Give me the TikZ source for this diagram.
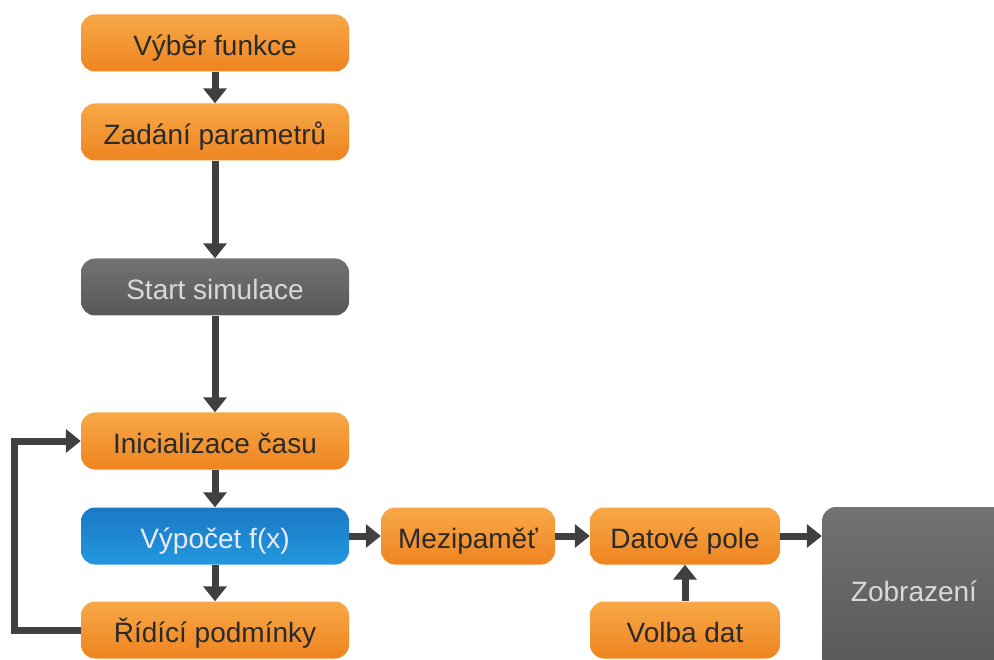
\documentclass[tikz,border=0pt]{standalone}
\usepackage{fontspec}
\setmainfont{Liberation Sans}
\usetikzlibrary{arrows.meta}
\definecolor{otop}{HTML}{F8A848}
\definecolor{obot}{HTML}{EE8420}
\definecolor{btop}{HTML}{1A78C4}
\definecolor{bbot}{HTML}{2398DE}
\definecolor{gtop}{HTML}{727272}
\definecolor{gbot}{HTML}{585858}
\definecolor{arrc}{HTML}{404040}
\definecolor{dtext}{HTML}{2A2A2A}
\begin{document}
\begin{tikzpicture}[x=1pt,y=-1pt,
  box/.style={rounded corners=14pt, inner sep=0pt, minimum height=57pt,
    text height=31pt, text depth=6pt,
    font=\fontsize{28}{32}\selectfont},
  obox/.style={box, top color=otop, bottom color=obot, text=dtext},
  bbox/.style={box, top color=btop, bottom color=bbot, text=white!92!blue},
  gbox/.style={box, top color=gtop, bottom color=gbot, text=white!85!black},
  arr/.style={draw=arrc, line width=7pt, -{Triangle[length=15pt,width=23pt]}}]
\useasboundingbox (0,0) rectangle (994,660);
\begin{scope}
\clip (0,0) rectangle (994,660);
\node[obox, minimum width=268pt] (f1) at (215,43) {Výběr funkce};
\node[obox, minimum width=268pt] (f2) at (215,132) {Zadání parametrů};
\node[gbox, minimum width=268pt] (st) at (215,287) {Start simulace};
\node[obox, minimum width=268pt] (in) at (215,441) {Inicializace času};
\node[bbox, minimum width=268pt] (vy) at (215,536) {Výpočet f(x)};
\node[obox, minimum width=268pt] (rp) at (215,630) {Řídící podmínky};
\node[obox, minimum width=174pt] (me) at (468,536) {Mezipaměť};
\node[obox, minimum width=190pt] (dp) at (685,536) {Datové pole};
\node[obox, minimum width=190pt] (vd) at (685,630) {Volba dat};
\node[gbox, minimum width=184pt, minimum height=164pt] (zo) at (914,589) {Zobrazení};
\end{scope}
\coordinate (lp) at (14,0);
\draw[arr] (f1) -- (f2);
\draw[arr] (f2) -- (st);
\draw[arr] (st) -- (in);
\draw[arr] (in) -- (vy);
\draw[arr] (vy) -- (rp);
\draw[arr] (vy) -- (me);
\draw[arr] (me) -- (dp);
\draw[arr] (dp.east) -- (dp.east -| zo.west);
\draw[arr] (vd) -- (dp);
\draw[arr, rounded corners=0pt] (rp.west) -- (rp.west -| lp) |- (in.west);
\end{tikzpicture}
\end{document}
